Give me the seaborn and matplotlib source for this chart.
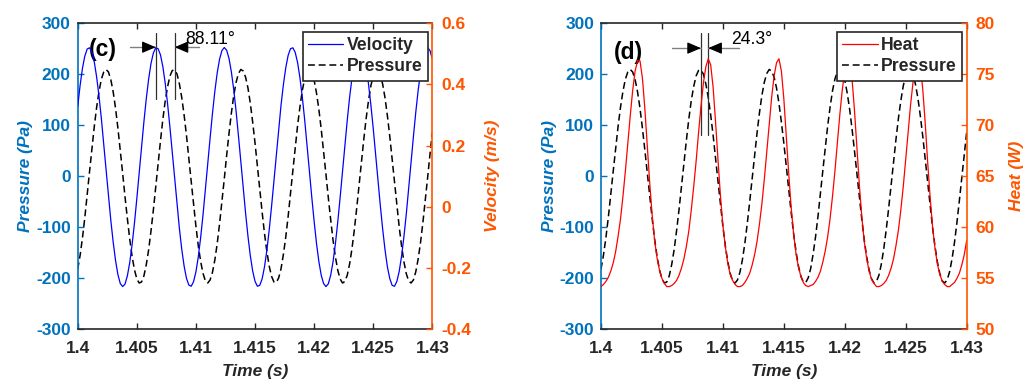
import numpy as np
import matplotlib
matplotlib.use("Agg")
import matplotlib.pyplot as plt
import seaborn as sns

# ---------------- data ----------------
# sampling grid: 1.400 s ... 1.430 s every 0.2 ms
TIME = np.round(np.linspace(1.400, 1.430, 151), 4)

PRESSURE = [  # Pa
    -182, -155, -121, -81, -37, 9, 54, 97, 135, 166,
    190, 204, 209, 204, 189, 165, 133, 94, 51, 6,
    -40, -83, -123, -157, -183, -201, -209, -207, -195, -173,
    -144, -107, -66, -21, 25, 69, 111, 147, 175, 196,
    207, 208, 200, 181, 154, 120, 80, 36, -10, -55,
    -98, -136, -167, -190, -205, -209, -203, -188, -164, -132,
    -93, -50, -5, 41, 84, 124, 158, 184, 201, 209,
    206, 194, 173, 143, 106, 65, 20, -26, -70, -112,
    -147, -176, -196, -207, -208, -199, -181, -153, -119, -79,
    -35, 11, 56, 99, 136, 168, 191, 205, 209, 203,
    188, 163, 131, 92, 49, 4, -42, -85, -125, -158,
    -184, -201, -209, -206, -194, -172, -142, -105, -63, -19,
    27, 72, 113, 148, 177, 197, 207, 208, 199, 180,
    153, 118, 78, 33, -12, -57, -100, -137, -168, -191,
    -205, -209, -203, -187, -162, -130, -91, -48, -3, 43,
    86,
]

VELOCITY = [  # m/s
    0.328, 0.396, 0.452, 0.492, 0.515, 0.519, 0.505, 0.473, 0.424, 0.361,
    0.288, 0.206, 0.121, 0.037, -0.044, -0.115, -0.175, -0.221, -0.250, -0.260,
    -0.252, -0.225, -0.182, -0.123, -0.053, 0.027, 0.111, 0.196, 0.278, 0.353,
    0.417, 0.468, 0.502, 0.519, 0.516, 0.496, 0.458, 0.404, 0.337, 0.260,
    0.177, 0.091, 0.008, -0.070, -0.138, -0.193, -0.233, -0.255, -0.259, -0.244,
    -0.212, -0.163, -0.100, -0.026, 0.056, 0.141, 0.225, 0.305, 0.377, 0.437,
    0.482, 0.510, 0.520, 0.511, 0.484, 0.440, 0.382, 0.311, 0.231, 0.147,
    0.062, -0.020, -0.095, -0.159, -0.209, -0.243, -0.259, -0.256, -0.235, -0.196,
    -0.142, -0.075, 0.002, 0.085, 0.171, 0.254, 0.332, 0.399, 0.454, 0.494,
    0.516, 0.519, 0.504, 0.471, 0.421, 0.358, 0.284, 0.202, 0.117, 0.032,
    -0.047, -0.119, -0.178, -0.223, -0.250, -0.260, -0.251, -0.223, -0.179, -0.120,
    -0.049, 0.031, 0.115, 0.200, 0.282, 0.357, 0.420, 0.470, 0.503, 0.519,
    0.516, 0.494, 0.455, 0.401, 0.333, 0.256, 0.172, 0.087, 0.004, -0.073,
    -0.141, -0.196, -0.234, -0.256, -0.259, -0.243, -0.210, -0.160, -0.096, -0.022,
    0.060, 0.145, 0.230, 0.309, 0.380, 0.439, 0.484, 0.511, 0.520, 0.510,
    0.483,
]

HEAT = [  # W
    54.2, 54.4, 54.7, 55.1, 55.7, 56.5, 57.6, 59.1, 60.8, 63.0,
    65.5, 68.2, 70.9, 73.4, 75.3, 76.3, 76.3, 74.6, 71.6, 67.9,
    64.3, 61.2, 58.7, 57.0, 55.8, 55.0, 54.5, 54.2, 54.2, 54.3,
    54.5, 54.8, 55.3, 56.0, 56.9, 58.1, 59.6, 61.6, 63.9, 66.4,
    69.2, 71.8, 74.1, 75.7, 76.5, 75.9, 73.7, 70.3, 66.6, 63.1,
    60.2, 58.1, 56.5, 55.4, 54.8, 54.4, 54.2, 54.2, 54.3, 54.6,
    55.0, 55.5, 56.3, 57.3, 58.6, 60.3, 62.3, 64.7, 67.4, 70.1,
    72.7, 74.8, 76.1, 76.5, 75.3, 72.6, 69.0, 65.3, 62.0, 59.4,
    57.4, 56.1, 55.2, 54.6, 54.3, 54.2, 54.3, 54.4, 54.7, 55.1,
    55.7, 56.6, 57.7, 59.1, 60.9, 63.1, 65.6, 68.3, 71.1, 73.5,
    75.3, 76.4, 76.3, 74.5, 71.4, 67.7, 64.1, 61.0, 58.6, 56.9,
    55.7, 54.9, 54.5, 54.2, 54.2, 54.3, 54.5, 54.8, 55.3, 56.0,
    56.9, 58.2, 59.7, 61.7, 64.0, 66.6, 69.3, 72.0, 74.2, 75.8,
    76.5, 75.9, 73.5, 70.2, 66.4, 63.0, 60.1, 58.0, 56.4, 55.4,
    54.7, 54.4, 54.2, 54.2, 54.4, 54.6, 55.0, 55.5, 56.3, 57.3,
    58.7,
]

PHASE_LABEL_C = "88.11\u00b0"
PHASE_LABEL_D = "24.3\u00b0"

XTICKS = [1.4, 1.405, 1.41, 1.415, 1.42, 1.425, 1.43]
XTICKLABELS = ["1.4", "1.405", "1.41", "1.415", "1.42", "1.425", "1.43"]
PTICKS = [-300, -200, -100, 0, 100, 200, 300]
VTICKS = [-0.4, -0.2, 0, 0.2, 0.4, 0.6]
VTICKLABELS = ["-0.4", "-0.2", "0", "0.2", "0.4", "0.6"]
HTICKS = [50, 55, 60, 65, 70, 75, 80]

# ---------------- style ----------------
sns.set_theme(style="white")
plt.rcParams["font.family"] = ["Liberation Sans", "DejaVu Sans"]
plt.rcParams["font.weight"] = "bold"

BLUE_AX = "#0072BD"
ORANGE = "#FF5500"
DARK = "#262626"

fig = plt.figure(figsize=(10.24, 3.81), dpi=100)
ax1 = fig.add_axes([0.0759, 0.1352, 0.3463, 0.8045])
ax1r = ax1.twinx()
ax2 = fig.add_axes([0.5869, 0.1352, 0.3571, 0.8045])
ax2r = ax2.twinx()


def style(ax, axr, rlim, rticks, rlabels, rylabel):
    ax.set_xlim(1.4, 1.43)
    ax.set_ylim(-300, 300)
    ax.set_xticks(XTICKS)
    ax.set_xticklabels(XTICKLABELS)
    ax.set_yticks(PTICKS)
    ax.set_yticklabels([str(v) for v in PTICKS])
    axr.set_ylim(*rlim)
    axr.set_yticks(rticks)
    axr.set_yticklabels(rlabels)
    for a in (ax, axr):
        for s in a.spines.values():
            s.set_linewidth(1.2)
    ax.spines["left"].set_color(BLUE_AX)
    ax.spines["right"].set_visible(False)
    ax.spines["top"].set_color(DARK)
    ax.spines["bottom"].set_color(DARK)
    axr.spines["right"].set_color(ORANGE)
    for side in ("left", "top", "bottom"):
        axr.spines[side].set_visible(False)
    ax.tick_params(axis="x", direction="in", top=True, bottom=True, length=4,
                   width=1, color=DARK, labelcolor=DARK, labelsize=12.5, pad=8.5)
    ax.tick_params(axis="y", direction="in", left=True, right=False, length=4,
                   width=1, color=BLUE_AX, labelcolor=BLUE_AX, labelsize=12.5, pad=5)
    axr.tick_params(axis="y", direction="in", right=True, left=False, length=4,
                    width=1, color=ORANGE, labelcolor=ORANGE, labelsize=12.5, pad=6.5)
    ax.set_xlabel("Time (s)", fontsize=12.5, fontweight="bold", style="italic",
                  color=DARK, labelpad=5.5)
    ax.set_ylabel("Pressure (Pa)", fontsize=12.5, fontweight="bold", style="italic",
                  color=BLUE_AX, labelpad=2)
    axr.set_ylabel(rylabel, fontsize=12.5, fontweight="bold", style="italic",
                   color=ORANGE, labelpad=10)
    ax.grid(False)
    axr.grid(False)


DASH = (0, (4.5, 2.5))

# ---------------- panel (c) ----------------
sns.lineplot(x=TIME, y=PRESSURE, ax=ax1, color="black", lw=1.1, linestyle=DASH,
             estimator=None, sort=False, legend=False)
l_pres1 = ax1.lines[-1]
sns.lineplot(x=TIME, y=VELOCITY, ax=ax1r, color="#0000FF", lw=0.9,
             estimator=None, sort=False, legend=False)
l_vel = ax1r.lines[-1]
style(ax1, ax1r, (-0.4, 0.6), VTICKS, VTICKLABELS, "Velocity (m/s)")

# ---------------- panel (d) ----------------
sns.lineplot(x=TIME, y=PRESSURE, ax=ax2, color="black", lw=1.1, linestyle=DASH,
             estimator=None, sort=False, legend=False)
l_pres2 = ax2.lines[-1]
sns.lineplot(x=TIME, y=HEAT, ax=ax2r, color="#FF0000", lw=0.9,
             estimator=None, sort=False, legend=False)
l_heat = ax2r.lines[-1]
style(ax2, ax2r, (50, 80), HTICKS, [str(v) for v in HTICKS], "Heat (W)")

leg_kw = dict(loc="upper right", borderaxespad=0, fontsize=12.7, frameon=True,
              fancybox=False, framealpha=1, edgecolor=DARK, handlelength=2.0,
              handletextpad=0.2, borderpad=0.3, labelspacing=0.25)
lg1 = ax1r.legend([l_vel, l_pres1], ["Velocity", "Pressure"],
                  bbox_to_anchor=(0.987, 0.9716), **leg_kw)
lg1.get_frame().set_linewidth(1.2)
lg2 = ax2r.legend([l_heat, l_pres2], ["Heat", "Pressure"],
                  bbox_to_anchor=(0.9877, 0.9716), **leg_kw)
lg2.get_frame().set_linewidth(1.2)

ax1.text(0.032, 0.912, "(c)", transform=ax1.transAxes, fontsize=16.5,
         fontweight="bold", va="center", ha="left", color="black")
ax2.text(0.0355, 0.905, "(d)", transform=ax2.transAxes, fontsize=16.5,
         fontweight="bold", va="center", ha="left", color="black")


def peak_time(times, values, lo, hi):
    m = (times >= lo) & (times <= hi)
    return times[m][np.argmax(np.asarray(values)[m])]


def phase_marker(ax, xa, xb, y0, y1, ya, left_off, right_off, text, text_x, text_y):
    tr = ax.get_xaxis_transform()
    for x in (xa, xb):
        ax.plot([x, x], [y0, y1], transform=tr, color="#303030", lw=0.9, clip_on=False)
    ax.plot([xa - left_off, xa], [ya, ya], transform=tr, color="#808080", lw=1.0)
    ax.plot([xb, xb + right_off], [ya, ya], transform=tr, color="#808080", lw=1.0)
    ap = dict(arrowstyle="-|>,head_length=0.7,head_width=0.3", color="black",
              lw=0.8, shrinkA=0, shrinkB=0)
    ax.annotate("", xy=(xa, ya), xytext=(xa - 0.0008, ya), xycoords=tr,
                textcoords=tr, arrowprops=ap)
    ax.annotate("", xy=(xb, ya), xytext=(xb + 0.0008, ya), xycoords=tr,
                textcoords=tr, arrowprops=ap)
    ax.text(text_x, text_y, text, transform=tr, fontsize=12.7, fontweight="normal",
            va="baseline", ha="left", color="black")


tv_pk = peak_time(TIME, VELOCITY, 1.404, 1.409)
tp_pk = peak_time(TIME, PRESSURE, 1.4055, 1.4105)
th_pk = peak_time(TIME, HEAT, 1.4065, 1.411)
phase_marker(ax1, tv_pk, tp_pk, 0.751, 0.968, 0.921, 0.0022, 0.00203,
             PHASE_LABEL_C, 1.40908, 0.9315)
phase_marker(ax2, tp_pk, th_pk, 0.635, 0.968, 0.918, 0.00238, 0.00256,
             PHASE_LABEL_D, 1.41064, 0.930)

fig.savefig("out.png", dpi=100)
